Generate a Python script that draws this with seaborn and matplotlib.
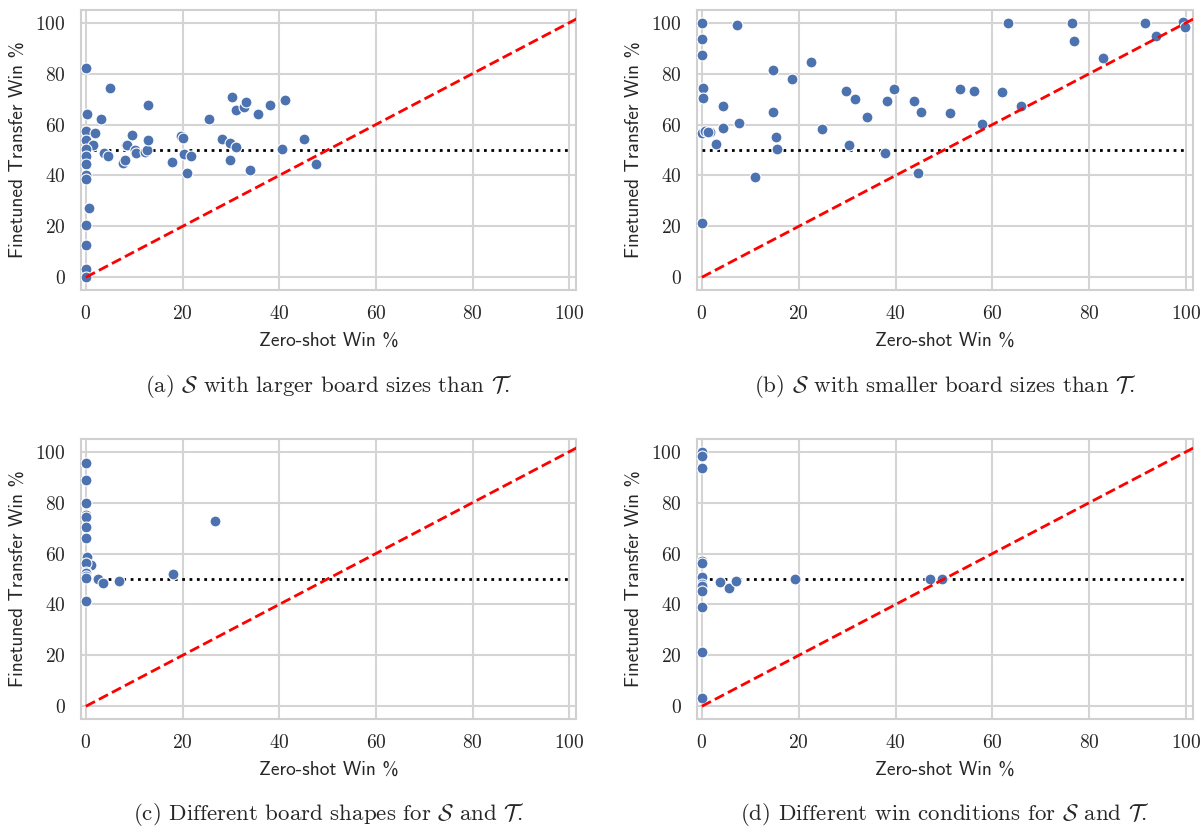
import numpy as np
import pandas as pd
import seaborn as sns
import matplotlib.pyplot as plt

# (a) source has larger board sizes than target
a_zero = [0, 5.0, 0.3, 3.2, 12.9, 0, 0, 1.9, 1.4, 0, 0, 0, 0, 0, 0.6, 0, 0, 0, 0,
          3.7, 4.6, 8.3, 8.6, 9.6, 7.6, 8.1, 10.1, 10.3, 12.2, 12.7, 12.9, 19.6, 20.1,
          20.3, 21.7, 21.0, 17.9, 25.5, 28.2, 29.8, 31.0, 29.8, 33.9, 30.3, 31.0,
          32.7, 33.1, 35.7, 38.1, 41.2, 40.6, 45.2, 47.7]
a_fine = [82.3, 74.5, 64.2, 62.0, 67.5, 57.3, 54.0, 56.6, 52.0, 50.3, 47.5, 44.6, 40.0,
          38.8, 27.4, 20.5, 12.6, 3.1, 0.0,
          49.0, 47.5, 52.0, 51.8, 55.8, 44.9, 46.2, 50.0, 48.8, 49.2, 49.9, 54.0, 55.5,
          54.7, 48.6, 47.5, 41.0, 45.4, 62.1, 54.3, 52.9, 51.0, 46.2, 42.3, 70.9, 65.9,
          66.7, 68.8, 64.3, 67.6, 69.8, 50.5, 54.3, 44.6]

# (b) source has smaller board sizes than target
b_zero = [0, 7.3, 0, 0, 14.7, 22.5, 18.6, 0.3, 0.3, 4.3, 14.7, 7.7, 0, 0.7, 1.6, 1.2,
          4.3, 3.0, 15.3, 15.5, 10.9, 0, 24.9, 29.8, 31.6, 30.3, 34.0, 37.9, 38.3, 39.7,
          43.9, 45.3, 44.7, 51.3, 53.2, 56.2, 57.9, 61.9, 65.9, 63.2, 76.5, 76.9, 82.8,
          91.5, 93.8, 99.4, 99.8]
b_fine = [100.0, 99.0, 93.6, 87.3, 81.4, 84.5, 78.0, 74.5, 70.6, 67.1, 65.0, 60.5, 56.7,
          57.6, 57.0, 57.2, 58.5, 52.2, 55.1, 50.4, 39.5, 21.5, 58.3, 73.0, 70.2, 52.0,
          63.0, 48.7, 69.3, 74.1, 69.4, 65.0, 40.9, 64.6, 73.9, 73.0, 60.2, 72.7, 67.2,
          99.7, 100.0, 92.7, 86.0, 100.0, 94.8, 100.1, 98.2]

# (c) different board shapes
c_zero = [0, 0, 0, 0, 0, 0, 0, 0.3, 1.0, 0, 0, 0, 0, 0, 2.6, 3.6, 6.9, 18.0, 26.7, 0]
c_fine = [95.4, 89.0, 80.0, 75.0, 74.3, 70.3, 66.3, 58.8, 55.4, 56.2, 52.9, 52.2, 51.3,
          50.3, 50.1, 48.6, 49.3, 52.0, 72.7, 41.5]

# (d) different win conditions
d_zero = [0, 0, 0, 0, 0, 0, 0, 0, 0, 0, 0, 0, 3.7, 5.7, 7.1, 19.2, 47.2, 49.6]
d_fine = [100.0, 98.2, 93.6, 57.2, 56.2, 50.9, 48.0, 47.2, 45.1, 39.0, 21.5, 3.3, 48.7,
          46.6, 49.2, 49.9, 49.9, 49.9]

captions = [
    r"(a) $\mathcal{S}$ with larger board sizes than $\mathcal{T}$.",
    r"(b) $\mathcal{S}$ with smaller board sizes than $\mathcal{T}$.",
    r"(c) Different board shapes for $\mathcal{S}$ and $\mathcal{T}$.",
    r"(d) Different win conditions for $\mathcal{S}$ and $\mathcal{T}$.",
]
ticks = [0, 20, 40, 60, 80, 100]

sns.set_theme(style="whitegrid")
plt.rcParams.update({
    "font.family": ["cmr10", "DejaVu Serif"],
    "mathtext.fontset": "cm",
    "axes.formatter.use_mathtext": True,
    "axes.edgecolor": "#d0d0d0",
    "grid.color": "#d4d4d4",
    "axes.linewidth": 1.5,
    "grid.linewidth": 1.5,
})

W, H = 1203, 826
fig = plt.figure(figsize=(W / 100, H / 100), dpi=100)

# axes boxes in pixels: left, top, right, bottom
boxes = [(81, 10, 576, 290), (697, 10, 1193, 290),
         (81, 439, 576, 719), (697, 439, 1193, 719)]
# caption centre lines in pixels from the top
caption_y = [386, 386, 814, 814]

panels = [(a_zero, a_fine), (b_zero, b_fine), (c_zero, c_fine), (d_zero, d_fine)]

for (xs, ys), (l, t, r, b), cap, cy in zip(panels, boxes, captions, caption_y):
    ax = fig.add_axes([l / W, 1 - b / H, (r - l) / W, (b - t) / H])
    df = pd.DataFrame({"zero": xs, "fine": ys})
    ax.plot([0, 100], [50, 50], linestyle=":", color="black", lw=2, zorder=1.5)
    sns.scatterplot(data=df, x="zero", y="fine", ax=ax, color="#4c72b0",
                    s=62, edgecolor="white", linewidth=0.8, zorder=3)
    # identity line starting at the origin
    ax.plot([0, 102], [0, 102], color="red", linestyle="--", lw=2, zorder=4)
    ax.set_xlim(-1.0, 101.4)
    ax.set_ylim(-5, 105)
    ax.set_xticks(ticks)
    ax.set_yticks(ticks)
    ax.tick_params(labelsize=14, pad=5)
    ax.set_xlabel("Zero-shot Win %", family=["cmss10", "DejaVu Sans"], fontsize=14, labelpad=6)
    ax.set_ylabel("Finetuned Transfer Win %", family=["cmss10", "DejaVu Sans"], fontsize=14,
                  labelpad=6)
    fig.text((l + r) / 2 / W, 1 - cy / H, cap, ha="center", va="center", fontsize=16.5,
             family=["cmr10", "DejaVu Serif"])

fig.savefig("out.png", dpi=100)
